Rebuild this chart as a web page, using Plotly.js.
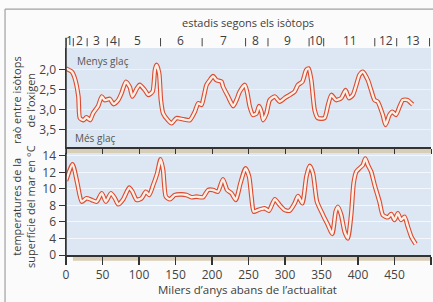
<!DOCTYPE html>
<html>
<head>
<meta charset="utf-8">
<script src="https://cdn.plot.ly/plotly-3.0.1.min.js"></script>
<style>html,body{margin:0;padding:0;background:#fbfbfb;}#chart{width:433px;height:302px;}</style>
</head>
<body>
<div id="chart"></div>
<script>
// Oxygen isotope ratio (top panel), x = thousands of years before present
const isoX = [0, 8, 12, 17, 19, 24, 28, 33, 37, 44, 49, 53, 60, 65, 71.5, 76, 82, 87.5, 91, 97, 101, 108, 112.6, 118.6, 121.8, 124, 127.6, 130, 133, 140, 144.6, 151.4, 160.5, 169.6, 176.5, 181, 185.6, 188.8, 192.5, 197, 201.5, 206, 213, 215, 222, 229, 233.5, 238, 245, 248, 251.7, 256, 261, 264.5, 267.7, 270, 274.6, 279, 286, 292.7, 299.6, 306.4, 313, 317.8, 323.8, 329, 332.4, 336, 340.6, 345, 354, 359, 363.5, 370, 377, 383, 387.6, 393, 397.7, 402, 406.7, 413.5, 418, 422.7, 427, 434, 437.8, 443, 447, 452, 457, 461.4, 468, 473, 475];
const isoY = [1.98, 2.06, 2.22, 2.68, 3.22, 3.27, 3.2, 3.27, 3.1, 2.92, 2.68, 2.77, 2.74, 2.87, 2.77, 2.6, 2.31, 2.45, 2.68, 2.48, 2.39, 2.52, 2.64, 2.56, 2.02, 1.89, 2.1, 2.77, 3.1, 3.28, 3.35, 3.22, 3.25, 3.27, 3.06, 2.85, 2.89, 2.68, 2.39, 2.27, 2.17, 2.27, 2.31, 2.43, 2.68, 2.92, 2.77, 2.56, 2.39, 2.56, 2.93, 3.14, 3.1, 2.92, 3.06, 3.27, 3.1, 2.77, 2.68, 2.81, 2.72, 2.64, 2.56, 2.39, 2.31, 2.02, 1.98, 2.27, 3.02, 3.22, 3.22, 2.89, 2.64, 2.77, 2.72, 2.52, 2.72, 2.64, 2.39, 2.14, 2.06, 2.27, 2.52, 2.77, 2.81, 3.14, 3.39, 3.14, 3.06, 3.14, 2.93, 2.77, 2.77, 2.85, 2.88];

// Sea surface temperature (bottom panel), values on the drawn scale
const tempX = [0, 9, 15.5, 21.5, 28, 35, 42, 49, 54.7, 61.5, 67, 71.5, 78.4, 86.6, 91, 96.7, 103.5, 109.4, 114, 119.4, 124.9, 129.5, 133, 136.8, 142.3, 149, 158, 165, 172, 178.8, 187.8, 194.7, 201.5, 208, 215, 220.7, 226.7, 232.6, 239, 245.8, 250.8, 254, 257.2, 263, 272, 278, 286, 292.7, 299.6, 306.4, 313.3, 317.8, 323.8, 329.3, 333.8, 338.3, 343.8, 352, 358.8, 364.8, 369.4, 372.5, 377, 381.7, 386.2, 390.8, 394, 397.7, 402, 406.7, 410, 413.5, 418, 422.7, 429.5, 434, 441, 445.5, 450, 454.6, 459, 463.8, 468.3, 473, 479];
const tempY = [11.0, 13.0, 10.7, 8.46, 8.87, 8.67, 8.46, 9.48, 8.46, 9.48, 8.87, 8.14, 8.75, 10.16, 9.67, 8.67, 8.87, 9.67, 9.27, 10.48, 11.9, 13.6, 12.3, 9.07, 8.75, 9.27, 9.35, 9.27, 9.0, 9.07, 9.0, 9.88, 9.88, 9.67, 11.18, 9.88, 9.48, 8.67, 10.7, 12.5, 11.5, 9.07, 7.25, 7.45, 7.66, 7.37, 8.75, 8.06, 7.45, 7.37, 8.27, 9.15, 8.27, 11.5, 12.8, 11.9, 8.46, 6.85, 5.64, 4.55, 7.25, 7.85, 6.85, 4.82, 4.0, 7.05, 10.7, 12.1, 12.5, 12.9, 13.7, 12.9, 12.1, 10.5, 8.46, 6.85, 6.57, 6.97, 6.24, 7.05, 6.24, 6.64, 5.43, 4.22, 3.33];

// Marine isotope stages
const stageNames = ['1','2','3','4','5','6','7','8','9','10','11','12','13'];
const stagePos = [4.5, 19, 42, 64.7, 98.5, 157, 216, 260, 304, 343, 388.5, 438.7, 475];
const stageBounds = [0, 10, 29, 56.5, 72.5, 129.5, 186.5, 246, 276.7, 333, 353, 423, 453, 498];

const xTicks = [0, 50, 100, 150, 200, 250, 300, 350, 400, 450, 500];
const isoTicks = [2.0, 2.5, 3.0, 3.5];
const isoTickText = ['2,0', '2,5', '3,0', '3,5'];
const tempTicks = [2, 4, 6, 8, 10, 12, 14];
const tempTickText = ['0', '4', '6', '8', '10', '12', '14'];

const RED = '#dc4a32', PALE = '#fdf1e6';
const FONT = 'Open Sans, sans-serif';
const TXT = '#3d3d3d';

function pair(x, y, xa, ya) {
  return [
    {x: x, y: y, xaxis: xa, yaxis: ya, mode: 'lines', line: {color: RED, width: 4.6, shape: 'spline', smoothing: 0.6}, hoverinfo: 'skip', showlegend: false},
    {x: x, y: y, xaxis: xa, yaxis: ya, mode: 'lines', line: {color: PALE, width: 2.4, shape: 'spline', smoothing: 0.6}, hoverinfo: 'skip', showlegend: false}
  ];
}
const data = [].concat(pair(isoX, isoY, 'x2', 'y2'), pair(tempX, tempY, 'x', 'y'));

// layout geometry (paper)
const botTop = 0.4928, topBot = 0.5217;

const shapes = [
  {type: 'line', xref: 'paper', yref: 'paper', x0: -0.167, x1: -0.167, y0: 1.188, y1: -0.25, line: {color: '#a0a0a0', width: 1.2}},
  {type: 'line', xref: 'paper', yref: 'paper', x0: -0.167, x1: 1.01, y0: 1.188, y1: 1.188, line: {color: '#a0a0a0', width: 1.2}},
  {type: 'rect', xref: 'paper', yref: 'paper', x0: 0, x1: 1, y0: botTop, y1: topBot, fillcolor: '#d8cdb7', line: {width: 0}, layer: 'below'},
  {type: 'rect', xref: 'paper', yref: 'paper', x0: 0.019, x1: 1, y0: -0.028, y1: 0, fillcolor: '#d8cdb7', line: {width: 0}, layer: 'below'},
  {type: 'line', xref: 'paper', yref: 'paper', x0: 0, x1: 0, y0: 0, y1: 1.05, line: {color: '#333', width: 1.5}}
];
stageBounds.forEach(b => shapes.push({type: 'line', xref: 'x2', yref: 'paper', x0: b, x1: b, y0: 1.008, y1: 1.048, line: {color: '#444', width: 1}}));

function ann(o) { return Object.assign({showarrow: false, xanchor: 'center', yanchor: 'middle', xref: 'paper', yref: 'paper'}, o); }
const annotations = [
  ann({text: 'estadis segons els isòtops', x: 0.4986, y: 1.125, font: {family: FONT, size: 11, color: TXT}}),
  ann({text: 'Menys glaç', x: 0.024, y: 0.937, xanchor: 'left', font: {family: FONT, size: 10, color: '#555'}}),
  ann({text: 'Més glaç', x: 0.019, y: 0.565, xanchor: 'left', font: {family: FONT, size: 10, color: '#555'}}),
  ann({text: 'raò entre isòtops<br>de l’oxigen', x: -0.115, y: 0.749, textangle: -90, font: {family: FONT, size: 11, color: TXT}}),
  ann({text: 'temperatures de la<br>superfície del mar en °C', x: -0.115, y: 0.232, textangle: -90, font: {family: FONT, size: 11, color: TXT}}),
  ann({text: 'Milers d’anys abans de l’actualitat', x: 0.4986, y: -0.169, font: {family: FONT, size: 11.5, color: TXT}})
];
stageNames.forEach((s, i) => annotations.push(ann({text: s, xref: 'x2', x: stagePos[i], y: 1.036, font: {family: FONT, size: 12, color: TXT}})));

const layout = {
  width: 433, height: 302,
  margin: {l: 66, r: 2, t: 48, b: 47},
  paper_bgcolor: '#fbfbfb',
  plot_bgcolor: '#dce7f3',
  font: {family: FONT, color: TXT},
  showlegend: false,
  xaxis: {domain: [0, 1], range: [0, 500], anchor: 'y', tickvals: xTicks, ticks: 'outside', ticklen: 8, tickcolor: '#333', tickwidth: 1.2,
          showline: true, linecolor: '#333', linewidth: 1.5, showgrid: false, zeroline: false, tickfont: {size: 12, color: '#444'}},
  yaxis: {domain: [0, botTop], range: [2, 14.36], tickvals: tempTicks, ticktext: tempTickText, ticks: 'outside', ticklen: 6, tickcolor: '#333',
          showline: true, linecolor: '#333', linewidth: 1.5, gridcolor: '#f4f8fc', gridwidth: 1, zeroline: false, tickfont: {size: 12, color: '#444'}},
  xaxis2: {domain: [0, 1], range: [0, 500], anchor: 'y2', tickvals: xTicks, showticklabels: false, ticks: 'outside', ticklen: 5, tickcolor: '#333',
          showline: true, linecolor: '#333', linewidth: 1.5, showgrid: false, zeroline: false},
  yaxis2: {domain: [topBot, 1], range: [3.9425, 1.4675], tickvals: isoTicks, ticktext: isoTickText, ticks: 'outside', ticklen: 6, tickcolor: '#333',
          showline: true, linecolor: '#333', linewidth: 1.5, gridcolor: '#eef3f9', gridwidth: 1, zeroline: false, tickfont: {size: 12, color: '#444'}},
  shapes: shapes,
  annotations: annotations
};

Plotly.newPlot('chart', data, layout, {staticPlot: true, displayModeBar: false});
</script>
</body>
</html>
